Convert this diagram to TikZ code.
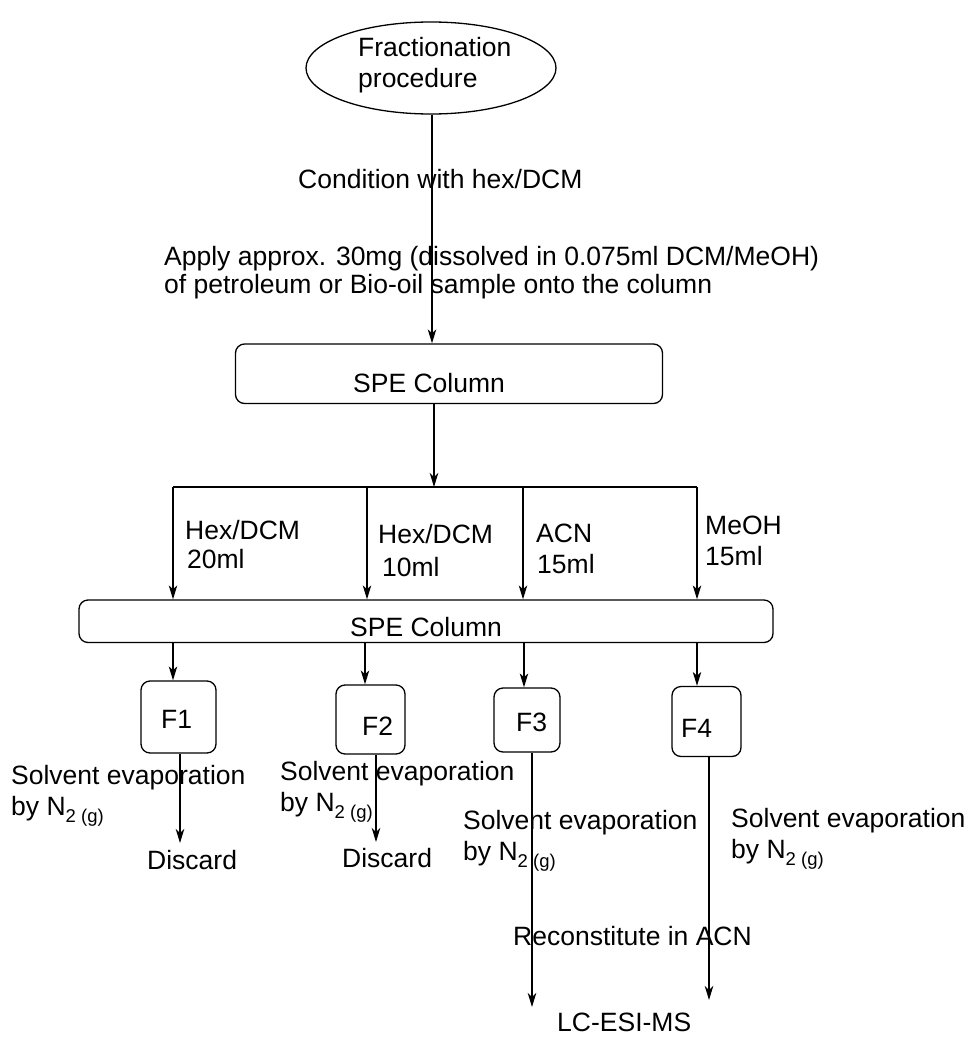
\documentclass[tikz,border=0pt]{standalone}
\usepackage{fontspec}
\setmainfont{Liberation Sans}
\usetikzlibrary{arrows.meta,shapes.geometric}
\newcommand{\myNsub}{N\raisebox{-7pt}{\fontsize{18.5}{18.5}\selectfont 2 (g)}}
\tikzset{
  txt/.style={font=\fontsize{26.5}{31}\selectfont, inner sep=0pt, anchor=base west},
  boxr/.style={draw, line width=1.3pt, rounded corners=9pt, inner sep=0pt},
  arr/.style={line width=1.3pt, -{Stealth[length=14pt,width=8.5pt,inset=4pt]}},
  ln/.style={line width=1.3pt},
}
\begin{document}
\begin{tikzpicture}[x=1pt,y=-1pt]
\useasboundingbox (0,0) rectangle (966,1038);
% top ellipse
\node[draw, line width=1.3pt, ellipse, minimum width=250pt, minimum height=92pt, inner sep=0pt] (start) at (431,68) {};
\node[txt] (startt1) at (358,57) {Fractionation};
\node[txt] (startt2) at (358,88) {procedure};
% first column
\node[boxr, minimum width=427pt, minimum height=59.5pt] (spe1) at (449,373.75) {};
\node[txt] (spe1t) at (353,392) {SPE Column};
\draw[arr] (start.south -| 432,0) -- (spe1.north -| 432,0);
\node[txt] (cond) at (298,188) {Condition with hex/DCM};
\node[txt] (apply1) at (164,265) {Apply approx. 30mg (dissolved in 0.075ml DCM/MeOH)};
\node[txt] (apply2) at (164,293) {of petroleum or Bio-oil sample onto the column};
% bus
\coordinate (bus) at (434,487);
\coordinate (b1) at (173,487);
\coordinate (b2) at (367,487);
\coordinate (b3) at (523,487);
\coordinate (b4) at (697,487);
\draw[arr] (spe1.south -| bus) -- (bus);
\draw[ln] (b1) -- (b4);
% second column
\node[boxr, minimum width=694pt, minimum height=42.5pt] (spe2) at (426,621.25) {};
\node[txt] (spe2t) at (350,636) {SPE Column};
\draw[arr] (b1) -- (spe2.north -| b1);
\draw[arr] (b2) -- (spe2.north -| b2);
\draw[arr] (b3) -- (spe2.north -| b3);
\draw[arr] (b4) -- (spe2.north -| b4);
\node[txt] (l1a) at (185,539) {Hex/DCM};
\node[txt] (l1b) at (187,568) {20ml};
\node[txt] (l2a) at (378,543) {Hex/DCM};
\node[txt] (l2b) at (382,576) {10ml};
\node[txt] (l3a) at (536,542) {ACN};
\node[txt] (l3b) at (537,573) {15ml};
\node[txt] (l4a) at (705,534) {MeOH};
\node[txt] (l4b) at (705,565) {15ml};
% fractions
\node[boxr, minimum width=75pt, minimum height=72pt] (f1) at (178.5,717) {};
\node[boxr, minimum width=69pt, minimum height=69pt] (f2) at (370.5,719.5) {};
\node[boxr, minimum width=66pt, minimum height=64pt] (f3) at (527,720) {};
\node[boxr, minimum width=69pt, minimum height=70pt] (f4) at (706.5,721.5) {};
\node[txt] (f1t) at (161,728) {F1};
\node[txt] (f2t) at (362,735) {F2};
\node[txt] (f3t) at (516,731) {F3};
\node[txt] (f4t) at (681,737) {F4};
\draw[arr] (spe2.south -| 173,0) -- (f1.north -| 173,0);
\draw[arr] (spe2.south -| 365,0) -- (f2.north -| 365,0);
\draw[arr] (spe2.south -| 524,0) -- (f3.north -| 524,0);
\draw[arr] (spe2.south -| 697,0) -- (f4.north -| 697,0);
% outputs
\coordinate (e1) at (180,843);
\coordinate (e2) at (376,842);
\coordinate (e3) at (532,1007);
\coordinate (e4) at (709,1000);
\draw[arr] (f1.south -| e1) -- (e1);
\draw[arr] (f2.south -| e2) -- (e2);
\draw[arr] (f3.south -| e3) -- (e3);
\draw[arr] (f4.south -| e4) -- (e4);
\node[txt] (s1a) at (11,784) {Solvent evaporation};
\node[txt] (s1b) at (11,815) {by \myNsub};
\node[txt] (s2a) at (280,780) {Solvent evaporation};
\node[txt] (s2b) at (280,811) {by \myNsub};
\node[txt] (s3a) at (463,829) {Solvent evaporation};
\node[txt] (s3b) at (463,860) {by \myNsub};
\node[txt] (s4a) at (731,827) {Solvent evaporation};
\node[txt] (s4b) at (731,858) {by \myNsub};
\node[txt] (d1) at (147,869) {Discard};
\node[txt] (d2) at (342,867) {Discard};
\node[txt] (rec) at (513,945) {Reconstitute in ACN};
\node[txt] (lc) at (557,1031) {LC-ESI-MS};
\end{tikzpicture}
\end{document}
